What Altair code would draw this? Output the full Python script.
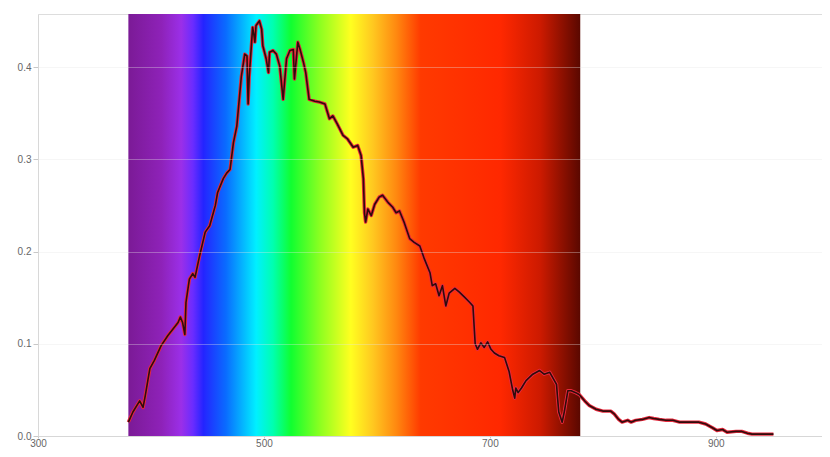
import altair as alt
import pandas as pd

# Spectrum trace (wavelength in nm, relative irradiance)
wavelength = [380, 384, 390, 393, 395, 399, 403, 409, 415, 424, 426, 428, 430, 431,
              434, 437, 439, 443, 448, 452, 457, 459, 464, 467, 470, 473, 476, 480,
              483, 485, 486, 487, 490, 491, 492, 493, 496, 498, 499, 502, 504, 505,
              508, 511, 514, 517, 520, 523, 526, 527, 530, 532, 535, 537, 540, 545,
              549, 554, 558, 561, 565, 570, 574, 579, 583, 586, 588, 589, 590, 592,
              595, 598, 602, 605, 610, 614, 617, 620, 624, 629, 633, 638, 642, 647,
              649, 652, 655, 658, 661, 664, 669, 673, 678, 682, 685, 687, 689, 692,
              695, 698, 701, 704, 708, 713, 717, 720, 722, 723, 725, 728, 732, 738,
              744, 748, 753, 759, 760, 761, 764, 766, 769, 772, 776, 779, 784, 788,
              794, 800, 807, 810, 814, 817, 822, 825, 829, 835, 841, 845, 850, 856,
              862, 868, 876, 885, 891, 897, 901, 906, 910, 918, 923, 928, 932, 941, 951]
irradiance = [0.015, 0.026, 0.038, 0.031, 0.044, 0.073, 0.082, 0.098, 0.109, 0.123, 0.129, 0.123, 0.110, 0.145,
              0.170, 0.176, 0.172, 0.195, 0.221, 0.228, 0.250, 0.264, 0.279, 0.285, 0.289, 0.318, 0.336, 0.390,
              0.414, 0.412, 0.360, 0.390, 0.443, 0.436, 0.427, 0.445, 0.450, 0.441, 0.423, 0.409, 0.394, 0.416,
              0.418, 0.414, 0.401, 0.365, 0.409, 0.418, 0.419, 0.387, 0.427, 0.419, 0.405, 0.394, 0.365, 0.363,
              0.362, 0.360, 0.344, 0.347, 0.338, 0.326, 0.322, 0.313, 0.315, 0.304, 0.279, 0.242, 0.232, 0.246,
              0.239, 0.251, 0.259, 0.261, 0.253, 0.248, 0.242, 0.244, 0.232, 0.214, 0.210, 0.206, 0.192, 0.177,
              0.163, 0.165, 0.152, 0.163, 0.141, 0.155, 0.160, 0.156, 0.150, 0.145, 0.141, 0.100, 0.094, 0.101,
              0.096, 0.102, 0.094, 0.090, 0.087, 0.085, 0.070, 0.051, 0.041, 0.052, 0.047, 0.052, 0.060, 0.067,
              0.071, 0.067, 0.069, 0.056, 0.040, 0.026, 0.015, 0.027, 0.049, 0.049, 0.047, 0.045, 0.038, 0.033,
              0.029, 0.027, 0.027, 0.024, 0.018, 0.015, 0.017, 0.015, 0.017, 0.018, 0.020, 0.019, 0.018, 0.017,
              0.017, 0.015, 0.015, 0.015, 0.013, 0.009, 0.006, 0.007, 0.004, 0.005, 0.005, 0.003, 0.002, 0.002, 0.002]

# Visible band
band_start = [380]
band_end = [780]
stop_offsets = [0.0, 0.073, 0.117, 0.143, 0.166, 0.216, 0.283, 0.32, 0.36, 0.426,
                0.492, 0.541, 0.592, 0.647, 0.823, 0.912, 1.0]
stop_colors = ["#7b1a96", "#8e22b8", "#9b2fe8", "#6a2cff", "#2424ff", "#0a6cff",
               "#00f0ff", "#00ffb0", "#10ff30", "#90ff20", "#ffff20", "#ffc820",
               "#ff8a10", "#ff3a00", "#ff2800", "#cc1a00", "#5a0800"]

x_ticks = [300, 500, 700, 900]
y_ticks = [0.0, 0.1, 0.2, 0.3, 0.4]

W, H = 784, 422
x_scale = alt.Scale(domain=[300, 994], nice=False, zero=False)
y_scale = alt.Scale(domain=[0, 0.4575], nice=False)

x_axis = alt.Axis(values=x_ticks, format="d", title=None, grid=False,
                  domainColor="#d0d0d0", tickColor="#c8c8c8", tickSize=2,
                  labelColor="#666666", labelFontSize=10, labelPadding=0,
                  labelFlush=False, labelFont="Liberation Sans")
y_axis = alt.Axis(values=y_ticks, format=".1f", title=None, grid=True,
                  gridColor="#e4e4e4", gridOpacity=0.35, zindex=1,
                  domainColor="#d8d8d8", tickColor="#c8c8c8", tickSize=5,
                  labelColor="#666666", labelFontSize=10, labelPadding=2,
                  labelFont="Liberation Sans")

band_df = pd.DataFrame({"start": band_start, "end": band_end})
spec_df = pd.DataFrame({"wavelength": wavelength, "irradiance": irradiance})

gradient = alt.LinearGradient(
    gradient="linear",
    stops=[alt.GradientStop(offset=o, color=c) for o, c in zip(stop_offsets, stop_colors)],
    x1=0, x2=1, y1=0, y2=0,
)

band = alt.Chart(band_df).mark_rect(color=gradient).encode(
    x=alt.X("start:Q", scale=x_scale, axis=x_axis),
    x2="end:Q",
    y=alt.value(0),
    y2=alt.value(H),
)

base = alt.Chart(spec_df).encode(
    x=alt.X("wavelength:Q", scale=x_scale, axis=x_axis),
    y=alt.Y("irradiance:Q", scale=y_scale, axis=y_axis),
)
outer = base.mark_line(color="#e8283c", strokeWidth=3.4, strokeJoin="round")
inner = base.mark_line(color="#2e0c0c", strokeWidth=1.6, strokeJoin="round")

chart = alt.layer(band, outer, inner).properties(
    width=W, height=H,
    autosize=alt.AutoSizeParams(type="none"),
    padding={"left": 30, "top": 6, "right": 0, "bottom": 13},
).configure_view(stroke=None).configure(background="white")

chart.save("out.html", embed_options={"renderer": "svg", "actions": False})
